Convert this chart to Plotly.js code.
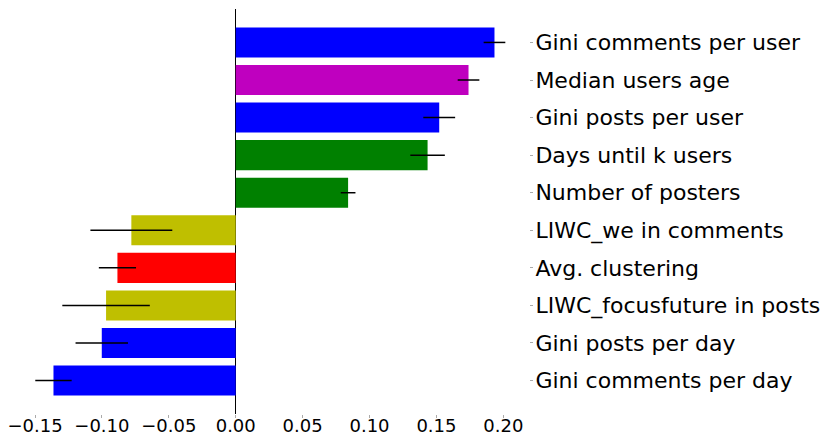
<!DOCTYPE html>
<html>
<head>
<meta charset="utf-8">
<script src="https://cdn.plot.ly/plotly-3.0.1.min.js"></script>
<style>
  html, body {margin: 0; padding: 0; background: #fff;}
  #chart {width: 831px; height: 444px;}
</style>
</head>
<body>
<div id="chart"></div>
<script>
// feature names, top to bottom
var features = ['Gini comments per user', 'Median users age', 'Gini posts per user',
                'Days until k users', 'Number of posters', 'LIWC_we in comments',
                'Avg. clustering', 'LIWC_focusfuture in posts', 'Gini posts per day',
                'Gini comments per day'];
var coefs = [0.1934, 0.1740, 0.1521, 0.1434, 0.0840, -0.0780, -0.0884, -0.0969, -0.1001, -0.1362];
var errs = [0.0081, 0.0081, 0.0119, 0.0129, 0.0055, 0.0306, 0.0139, 0.0327, 0.0196, 0.0136];
var colors = ['#0000ff', '#bf00bf', '#0000ff', '#008000', '#008000',
              '#bfbf00', '#ff0000', '#bfbf00', '#0000ff', '#0000ff'];
var xticks = [-0.15, -0.10, -0.05, 0.00, 0.05, 0.10, 0.15, 0.20];

var bars = {
   x: coefs,
   y: features,
   type: 'bar',
   orientation: 'h',
   width: 0.8,
   marker: {color: colors, line: {width: 0}},
   error_x: {type: 'data', array: errs, visible: true, color: '#000', thickness: 1.5, width: 0},
   showlegend: false,
   hoverinfo: 'x+y'
};

var layout = {
   width: 831,
   height: 444,
   margin: {l: 11.5, r: 302, t: 9, b: 30},
   paper_bgcolor: '#fff',
   plot_bgcolor: '#fff',
   font: {family: 'DejaVu Sans', color: '#000'},
   xaxis: {
      range: [-0.1672, 0.2192],
      tickvals: xticks,
      ticktext: xticks.map(function (v) { return v.toFixed(2).replace('-', '\u2212'); }),
      ticks: 'outside',
      ticklen: 3,
      tickwidth: 1,
      tickcolor: '#aaa',
      ticklabelstandoff: -8,
      tickfont: {size: 18, family: 'DejaVu Sans', color: '#000'},
      showgrid: false,
      showline: false,
      zeroline: true,
      zerolinecolor: '#000',
      zerolinewidth: 1.5
   },
   yaxis: {
      side: 'right',
      type: 'category',
      categoryorder: 'array',
      categoryarray: features,
      range: [9.89, -0.89],
      ticks: 'outside',
      ticklen: 3,
      tickwidth: 1,
      tickcolor: '#aaa',
      ticklabelstandoff: -2,
      tickfont: {size: 22, family: 'DejaVu Sans', color: '#000'},
      showgrid: false,
      showline: false,
      zeroline: false
   },
   bargap: 0.2
};

Plotly.newPlot('chart', [bars], layout, {displayModeBar: false, staticPlot: true});
</script>
</body>
</html>
